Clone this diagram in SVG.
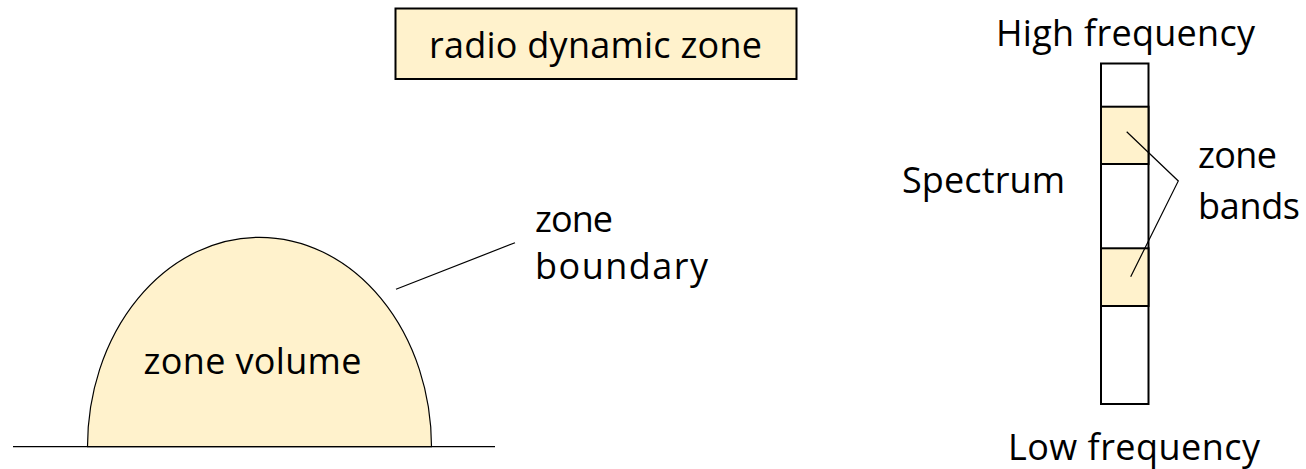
<svg xmlns="http://www.w3.org/2000/svg" width="1306" height="469" viewBox="0 0 1306 469">
  <style>
    text { font-family: "Open Sans", "Liberation Sans", sans-serif; font-size: 36px; fill: #000; }
    .zone { fill: #FFF2CC; stroke: #000; }
    .thin { fill: none; stroke: #000; stroke-width: 1.2; }
    .bar { fill: #FFFFFF; stroke: #000; stroke-width: 2; }
  </style>
  <rect width="1306" height="469" fill="#FFFFFF"/>

  <g id="title">
    <rect class="zone" x="395.5" y="8.5" width="401" height="70.5" stroke-width="2"/>
    <text x="429" y="58" textLength="333" lengthAdjust="spacing">radio dynamic zone</text>
  </g>

  <g id="zone-volume">
    <path class="zone" d="M 87.5 446.7 A 172 209.4 0 0 1 431.5 446.7 Z" stroke-width="1.2"/>
    <text x="143.5" y="374.3" textLength="218" lengthAdjust="spacing">zone volume</text>
  </g>

  <g id="ground">
    <line x1="13" y1="446.7" x2="495" y2="446.7" stroke="#000" stroke-width="1.2"/>
  </g>

  <g id="zone-boundary-label">
    <text x="535" y="231.7" textLength="78" lengthAdjust="spacing">zone</text>
    <text x="535" y="279.3" textLength="173" lengthAdjust="spacing">boundary</text>
  </g>

  <g id="spectrum">
    <rect class="bar" x="1101" y="63.5" width="47.5" height="340.5"/>
    <rect class="zone" x="1101" y="106.7" width="47.5" height="57.3" stroke-width="2"/>
    <rect class="zone" x="1101" y="248.3" width="47.5" height="57.7" stroke-width="2"/>
  </g>

  <g id="labels-spectrum">
    <text x="996" y="46" textLength="259" lengthAdjust="spacing">High frequency</text>
    <text x="902" y="193" textLength="163" lengthAdjust="spacing">Spectrum</text>
    <text x="1198" y="168.3" textLength="79" lengthAdjust="spacing">zone</text>
    <text x="1198" y="219" textLength="102" lengthAdjust="spacing">bands</text>
    <text x="1008" y="459.5" textLength="252" lengthAdjust="spacing">Low frequency</text>
  </g>

  <g id="connectors">
    <line class="thin" x1="396" y1="289.3" x2="515" y2="242.7"/>
    <polyline class="thin" points="1126.7,131.7 1178.3,181 1130.7,276.7"/>
  </g>
</svg>
